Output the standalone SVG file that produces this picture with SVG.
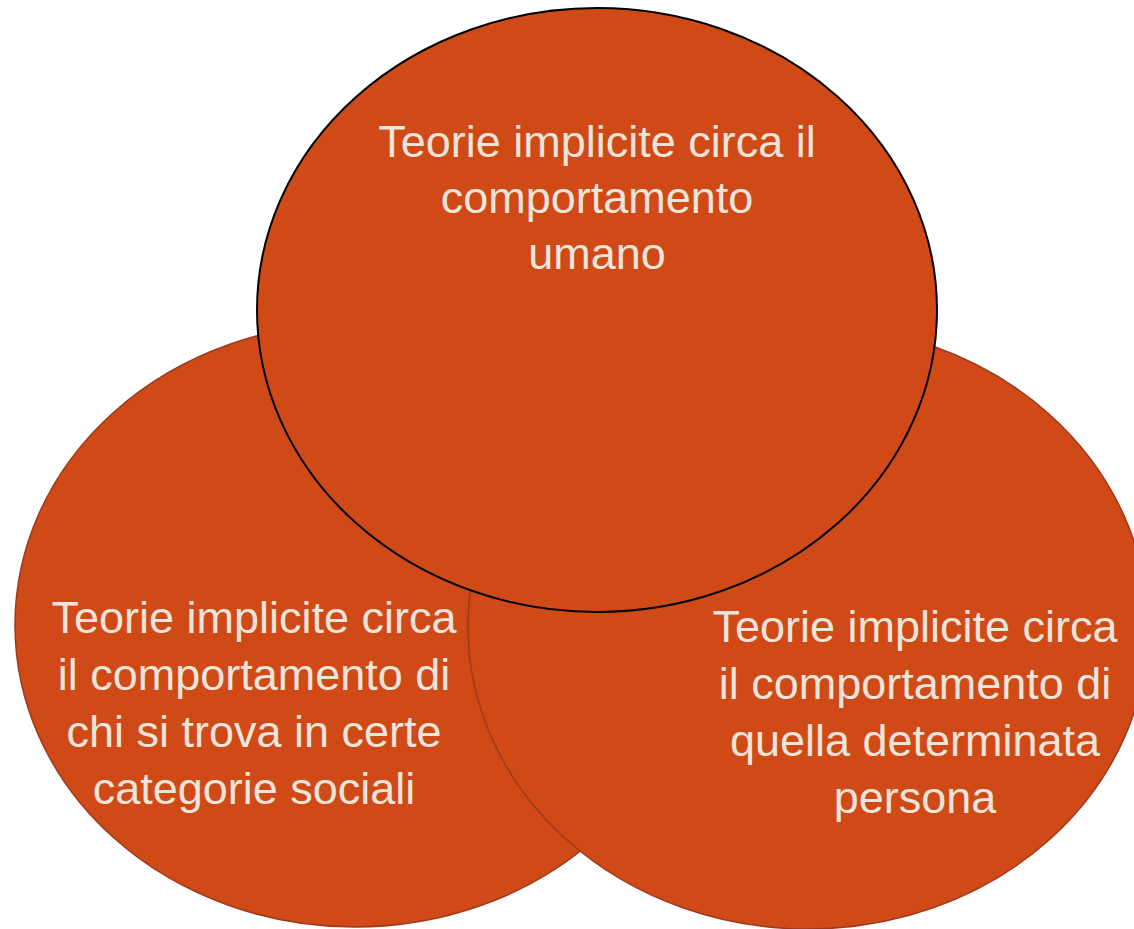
<svg xmlns="http://www.w3.org/2000/svg" width="1134" height="929" viewBox="0 0 1134 929">
<style>
.c{fill:#D04A17;}
.low{stroke:#9E3A1C;stroke-width:1.5;}
.top{stroke:#000;stroke-width:2;}
.t{font-family:"Liberation Sans",Arial,sans-serif;font-size:45px;fill:#EDE5DC;text-anchor:middle;}
</style>
<rect width="1134" height="929" fill="#fff"/>
<g id="node-left">
<ellipse class="c low" cx="355" cy="625" rx="340" ry="302"/>
</g>
<g id="node-right">
<ellipse class="c low" cx="808" cy="627" rx="340" ry="302"/>
</g>
<g id="node-top">
<ellipse class="c top" cx="597" cy="310" rx="340" ry="302"/>
</g>
<g id="connectors"></g>
<g id="label-top">
<text class="t" x="597" y="157">Teorie implicite circa il</text>
<text class="t" x="597" y="213">comportamento</text>
<text class="t" x="597" y="269">umano</text>
</g>
<g id="label-left">
<text class="t" x="254" y="633">Teorie implicite circa</text>
<text class="t" x="254" y="690">il comportamento di</text>
<text class="t" x="254" y="747">chi si trova in certe</text>
<text class="t" x="254" y="804">categorie sociali</text>
</g>
<g id="label-right">
<text class="t" x="915" y="642">Teorie implicite circa</text>
<text class="t" x="915" y="699">il comportamento di</text>
<text class="t" x="915" y="756">quella determinata</text>
<text class="t" x="915" y="813">persona</text>
</g>
</svg>
